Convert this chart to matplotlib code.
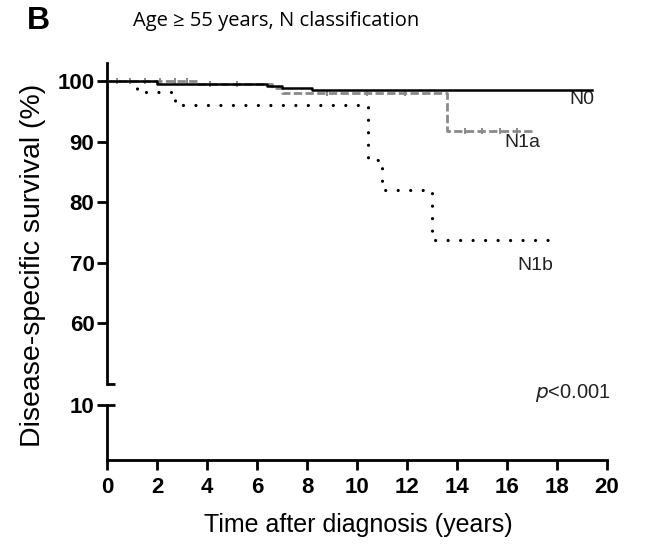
import matplotlib
matplotlib.use("Agg")
import matplotlib.pyplot as plt

# Kaplan-Meier steps: (time in years, survival %)
n0_times = [0, 2.0, 6.4, 7.0, 8.2, 19.4]
n0_surv = [100, 99.6, 99.2, 98.8, 98.5, 98.5]

n1a_times = [0, 3.6, 6.6, 7.0, 13.6, 17.0]
n1a_surv = [100, 99.5, 98.8, 98.0, 91.8, 91.8]
n1a_censor = [0.4, 0.9, 1.5, 2.1, 2.7, 3.2, 4.1, 5.2, 8.8, 10.4, 11.9, 14.3, 15.0, 15.7, 16.4]

n1b_times = [0, 1.2, 2.7, 10.45, 11.0, 13.0, 18.0]
n1b_surv = [100, 98.2, 96.0, 87.0, 82.0, 73.7, 73.7]

curve_labels = ["N0", "N1a", "N1b"]
label_pos = [(18.5, 96.9), (15.9, 89.9), (16.4, 69.6)]

upper_ticks = [60, 70, 80, 90, 100]
lower_ticks = [10]
x_ticks = list(range(0, 21, 2))

W, H = 646, 548
fig = plt.figure(figsize=(W / 100, H / 100), dpi=100)
plt.rcParams["font.family"] = ["Liberation Sans", "DejaVu Sans"]


def frac_box(left, top, right, bottom):
    return [left / W, 1 - bottom / H, (right - left) / W, (bottom - top) / H]


ax = fig.add_axes(frac_box(107, 63, 607, 384))
axl = fig.add_axes(frac_box(107, 403, 607, 460))

lw_axis = 2.0
for a in (ax, axl):
    a.set_xlim(0, 20)
    for s in ("top", "right"):
        a.spines[s].set_visible(False)
    a.spines["left"].set_linewidth(lw_axis)
    a.spines["bottom"].set_linewidth(lw_axis)
    a.tick_params(width=lw_axis, length=7, labelsize=16, pad=2)

ax.set_ylim(50, 103)
ax.spines["bottom"].set_visible(False)
ax.spines["left"].set_bounds(50, 103)
ax.set_xticks([])
ax.set_yticks(upper_ticks)
ax.set_yticklabels([str(v) for v in upper_ticks], fontweight="bold")

axl.set_ylim(0, 10.4)
axl.spines["left"].set_bounds(0, 10)
axl.set_yticks(lower_ticks)
axl.set_yticklabels([str(v) for v in lower_ticks], fontweight="bold")
axl.set_xticks(x_ticks)
axl.set_xticklabels([str(v) for v in x_ticks], fontweight="bold")
axl.tick_params(axis="x", pad=5)

# small caps at both ends of the axis break
ax.plot([0, 0.3], [50, 50], color="black", lw=lw_axis, clip_on=False,
        solid_capstyle="butt")
axl.plot([0, 0.3], [10, 10], color="black", lw=lw_axis, clip_on=False,
         solid_capstyle="butt")

# survival curves
ax.step(n0_times, n0_surv, where="post", color="black", lw=1.8, zorder=4)
ax.step(n1a_times, n1a_surv, where="post", color="#8a8a8a", lw=2.0,
        linestyle=(0, (3, 1.2)), zorder=3)
n1a_marks = []
for t in n1a_censor:
    idx = max(i for i, tt in enumerate(n1a_times) if tt <= t)
    n1a_marks.append(n1a_surv[idx])
ax.plot(n1a_censor, n1a_marks, linestyle="none", marker="|", markersize=5,
        mew=1.4, color="#8a8a8a", zorder=3)
ax.step(n1b_times, n1b_surv, where="post", color="black", lw=2.3,
        linestyle=(0, (0.01, 3.9)), dash_capstyle="round", zorder=2)

for name, (x, y) in zip(curve_labels, label_pos):
    ax.text(x, y, name, fontsize=14, ha="left", va="center", color="#222222")

fig.text(573 / W, 1 - 393 / H, r"$p$<0.001", fontsize=14.5, ha="center",
         va="center", color="#222222")

fig.text(33 / W, 1 - 265 / H, "Disease-specific survival (%)", rotation=90,
         fontsize=20.5, ha="center", va="center")
fig.text(358 / W, 1 - 525 / H, "Time after diagnosis (years)", fontsize=18,
         ha="center", va="center")

fig.text(27 / W, 1 - 21 / H, "B", fontsize=23, fontweight="bold",
         ha="left", va="center")
fig.text(133 / W, 1 - 21 / H, "Age \u2265 55 years, N classification",
         fontsize=14.5, ha="left", va="center", family=["Open Sans", "DejaVu Sans"])

fig.savefig("out.png", dpi=100)
